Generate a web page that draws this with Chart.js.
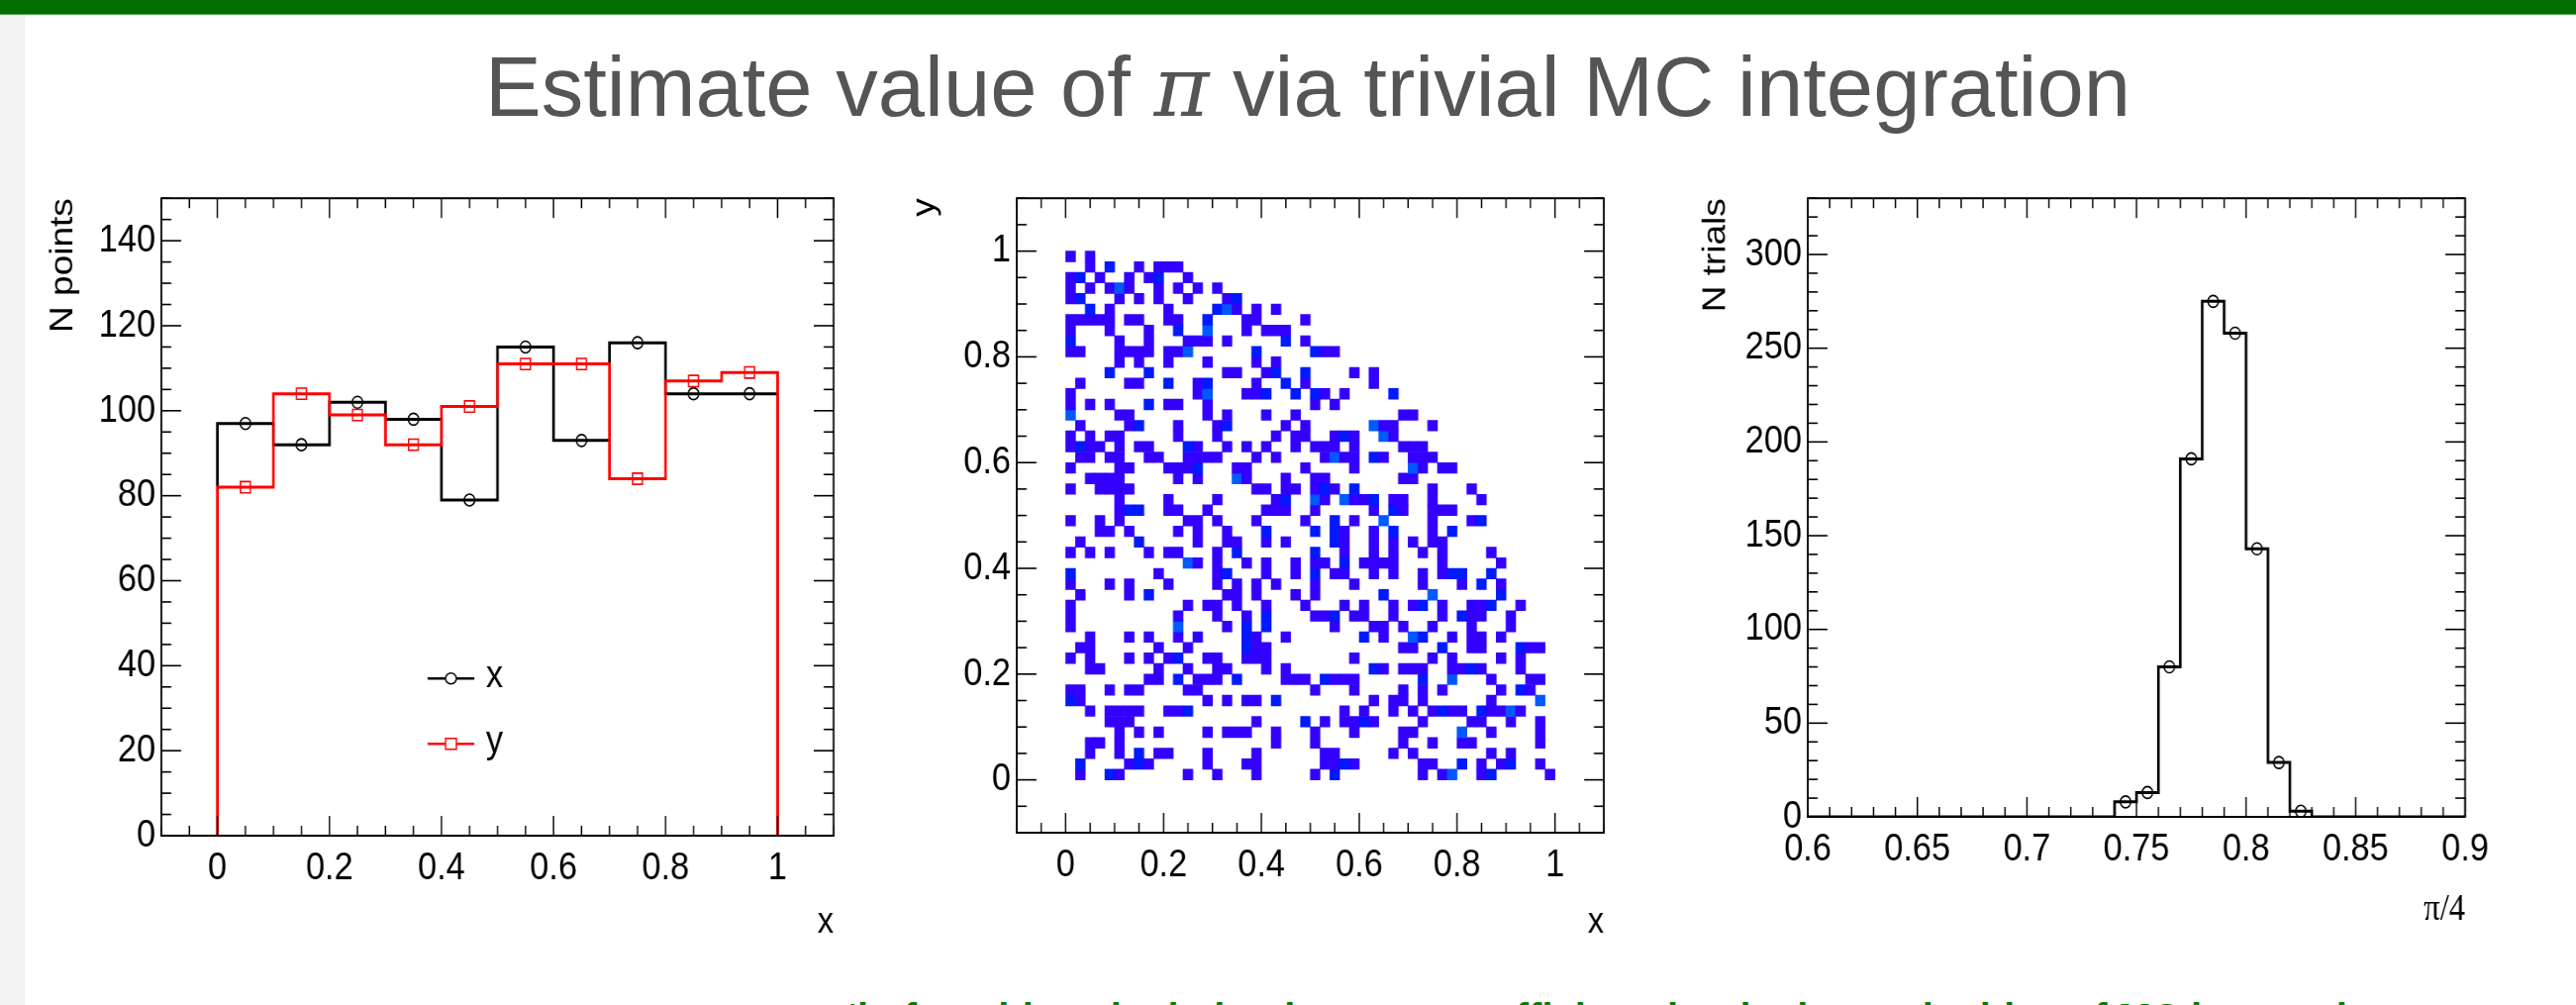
<!DOCTYPE html>
<html>
<head>
<meta charset="utf-8">
<script src="https://cdn.jsdelivr.net/npm/chart.js@4.4.1/dist/chart.umd.min.js"></script>
<style>
html, body { margin: 0; padding: 0; background: #fff; }
body { width: 2602px; height: 1015px; overflow: hidden; position: relative; font-family: "Liberation Sans", Arial, sans-serif; }
#topbar { position: absolute; left: 0; top: 0; width: 2602px; height: 14px; background: #006e00; border-bottom: 1px solid #4ea64e; }
#strip { position: absolute; left: 0; top: 15px; width: 25px; height: 1000px; background: #f3f3f3; }
#title { position: absolute; left: 25px; top: 45px; width: 2592px; text-align: center; font-size: 85px; line-height: 85px; color: #555; white-space: nowrap; }
#title .pi { font-family: "DejaVu Serif", serif; font-style: italic; }
#note { position: absolute; left: 855px; top: 1008px; font-size: 40px; line-height: 40px; color: #008000; font-weight: bold; white-space: nowrap; }
/* the ROOT canvases are squeezed horizontally in the slide */
canvas { position: absolute; top: 170px; transform-origin: 0 0; transform: scaleX(0.88); }
</style>
</head>
<body>
<div id="topbar"></div>
<div id="strip"></div>
<div id="title">Estimate value of <span class="pi">π</span> via trivial MC integration</div>
<canvas id="c1" height="810" style="left:30px"></canvas>
<canvas id="c2" height="810" style="left:880px"></canvas>
<canvas id="c3" height="810" style="left:1650px"></canvas>
<div id="note">‘in fact this calculation is not very efficient, but it shows the idea of MC integration</div>
<script>
// left pad: x and y of all generated points, 10 bins on [0,1]
const xyEdges = [0, 0.1, 0.2, 0.3, 0.4, 0.5, 0.6, 0.7, 0.8, 0.9, 1.0];
const xCounts = [97, 92, 102, 98, 79, 115, 93, 116, 104, 104];
const yCounts = [82, 104, 99, 92, 101, 111, 111, 84, 107, 109];
const p1XTicks = [0, 0.2, 0.4, 0.6, 0.8, 1];
const p1YTicks = [0, 20, 40, 60, 80, 100, 120, 140];
const legendLabels = ['x', 'y'];

// middle pad: points inside the quarter circle, 50x50 bins of 0.02
// hitRows[i] = y bin i (from y=0 up), entries "col" or "col:count"
const cellSize = 0.02;
const hitRows = [
  "1 4:2 5 12 15 19 25 27:2 36 38 39:3 42 43:2 49",
  "1:2 6 7:2 8 14 18 19 26 27 28:2 29 36 37 40:2 42 44 45:2 48",
  "2 5 7:2 9 10 14 19 26 27 33 35 43 45",
  "2 3 5 21 25 34 37 40 41 48",
  "5 7 9 14 16 17 18 21 25 29 34 35 40:3 43 48",
  "4 5 6 19 24:2 26 28 29 30:2 31 36 41 42 45 48",
  "2 4 5 6 7 10 11 12:2 28 30 33 35 37 38:2 39 40 42:2 43 44 45:3 46",
  "0:2 1 14 16 18 19 21:2 31 33 34 36 43 48:3",
  "0 1 4 6 7 12 13 25 29 34 36 38 44 46:2 47",
  "8 9 11:2 13 14 15 17:2 22 23 24 26:2 27 28 29 36:2 39:3 43 47 48",
  "2 3 9 12 15 16 20 22 31:2 32 34 35 36 39 40 41:2 42 46",
  "0 2 6 8 10 11:2 14 15 18 19 20 29 37 39 44 46",
  "1 2 9 12 18:2 19 20 34 35 38:2 41 42 46:2 47 48",
  "2 6 8 11 13 18:2 19 22 30:2 32 35:3 36:2 39 41 42 44",
  "0 11:3 16 18:2 20:2 27 31 32 34 37 41 45",
  "0 11 15 18 20:2 25 26 27:2 29 30 33 38 40:2 41 42 45",
  "0 12 14 15 17 20 24 28 30 33 35 36:2 38 41 42 43:2 46",
  "1 6 8:2 16 17 19 23 25 32:2 37:3 44:2",
  "0 4 6 10 15 17 19 21 25 29 36 40 42:2 44",
  "0:2 9 15 16:2 20 23 25:2 27 28 31 33 36 38 39:2 40:2 43:2",
  "12:3 13 15 18 20 23 25 26 28:2 30 31 32 33 38 44",
  "0 2 4 8 10 11 15 17:2 25:2 28 31 33 36 38 43",
  "1 7:2 13 16 17 20 22 27:2 28 31 33 35 37 38",
  "3 4 6 11 13 16 20:2 25:2 27:2 28 31 33:2 37 39:2",
  "0 3 5 12 13 15 19 24 27:2 29 32:3 37 41 42:2",
  "5 6:2 7:2 10 11 14 20 21 22 25 31 33:2 34 37 38 39",
  "5 10 15 21 22:2 25:3 26 28:3 29 30 31:2 33 34 37 42",
  "0 3 4 5 6 19 20 22 23 25 26:2 27 29:2 37 41",
  "2 3 4 5 11 13 17:3 18 22 25 26 34 35",
  "0 5 6 10 11 12 13:2 17 18 24 29 35:3 36 38 39",
  "1 2 4 5 8 9 12 13 14 15 19 21 26 27:3 28 29 31:2 32 35 36 37",
  "0 1:2 2 3 5 7 8 12:2 13 16 18 20 23 25 26 27 29 34 35 36",
  "0 2 4 5 11 15 21 23 24 27 28:2 29 32:3 33",
  "1 6 7:2 11 15 16:2 22 24 31:3 32 33 37",
  "0:3 5 6 14 16 20 23 34 35",
  "0 2 4 8:2 10 11 14 25 27",
  "0 13 14:3 18 19 20:2 23:2 25:2 26 28 33:2",
  "1 6 7 10:2 13 14:2 19 22:2 24 31",
  "4:2 8:2 16 17 20 21:2 24:2 29 31",
  "5 7 10 14 19 21",
  "0 1 5 6 7 8 10 11 12:3 19:2 25:2 26 27",
  "0:2 5 8 12 13 14 16 22:2 24",
  "0 4 8 11:2 14:3 18 20 21 22",
  "0 1 2 3 4 6 7 10 11 14:2 18 19 24",
  "2:2 4 10 15:2 16:3 17 19 21",
  "0 1:2 5 7 9 12 16 17:2",
  "0 2 4 5:3 6 9 11 13 15",
  "0 1:2 3 6 8 9:2 12",
  "2 4:2 7 9 10 11",
  "0 2"
];
const hitColors = ['#3300ff', '#0019ff', '#0059ff'];
const p2Ticks = [0, 0.2, 0.4, 0.6, 0.8, 1];

// right pad: pi/4 estimate of each trial, 30 bins on [0.6,0.9]
const piEdges = [0.60, 0.61, 0.62, 0.63, 0.64, 0.65, 0.66, 0.67, 0.68, 0.69, 0.70,
                 0.71, 0.72, 0.73, 0.74, 0.75, 0.76, 0.77, 0.78, 0.79, 0.80,
                 0.81, 0.82, 0.83, 0.84, 0.85, 0.86, 0.87, 0.88, 0.89, 0.90];
const piCounts = [0, 0, 0, 0, 0, 0, 0, 0, 0, 0, 0, 0, 0, 0, 8, 13, 80, 191, 275, 258, 143, 29, 3, 0, 0, 0, 0, 0, 0, 0];
const p3XTicks = [0.6, 0.65, 0.7, 0.75, 0.8, 0.85, 0.9];
const p3YTicks = [0, 50, 100, 150, 200, 250, 300];

const SX = 0.88;           // horizontal squeeze applied by css
const FONT = 'Liberation Sans';
const LABEL = {family: FONT, size: 39};
const TITLE = {family: FONT, size: 37};
const LW = 3;              // histogram line width

// histogram outline (ROOT style, edges go down to zero)
function stepPoints(edges, counts) {
  const pts = [{x: edges[0], y: 0}];
  counts.forEach((c, i) => pts.push({x: edges[i], y: c}));
  pts.push({x: edges[edges.length - 1], y: 0});
  return pts;
}
function centerPoints(edges, counts, skipZero) {
  const pts = [];
  counts.forEach((c, i) => {
    if (skipZero && c === 0) return;
    pts.push({x: (edges[i] + edges[i + 1]) / 2, y: c});
  });
  return pts;
}
const fmt = v => String(Math.round(v * 1000) / 1000);

// pad geometry given in page pixels -> canvas pixels
function pad(id, left, visWidth, frameL, frameR, yTitleX) {
  const cv = document.getElementById(id);
  cv.width = Math.round(visWidth / SX);
  return {
    yWidth: (frameL - left) / SX,
    padRight: cv.width - (frameR - left) / SX,
    yTitlePad: (yTitleX - left) / SX - TITLE.size * 0.6
  };
}

// frame with inward ticks on all four sides
const rootFrame = {
  id: 'rootFrame',
  afterDatasetsDraw(chart, args, opts) {
    const {ctx, chartArea: a, scales} = chart;
    const xs = scales.x, ys = scales.y;
    ctx.save();
    ctx.strokeStyle = '#000';
    ctx.lineWidth = 1.6;
    const seg = (x1, y1, x2, y2) => { ctx.beginPath(); ctx.moveTo(x1, y1); ctx.lineTo(x2, y2); ctx.stroke(); };
    const tickX = (v, len) => { const p = xs.getPixelForValue(v); seg(p, a.bottom, p, a.bottom - len); seg(p, a.top, p, a.top + len); };
    const tickY = (v, len) => { const p = ys.getPixelForValue(v); len /= SX; seg(a.left, p, a.left + len, p); seg(a.right, p, a.right - len, p); };
    const minors = (scale, step, majors, fn) => {
      for (let k = Math.ceil(scale.min / step - 1e-6); k * step <= scale.max + 1e-9; k++) {
        const v = k * step;
        if (majors.some(m => Math.abs(m.value - v) < step / 10)) continue;
        fn(v, 10);
      }
    };
    xs.ticks.forEach(t => tickX(t.value, 20));
    ys.ticks.forEach(t => tickY(t.value, 20));
    minors(xs, opts.xMinor, xs.ticks, tickX);
    minors(ys, opts.yMinor, ys.ticks, tickY);
    ctx.lineWidth = 2;
    ctx.strokeRect(a.left, a.top, a.width, a.height);
    ctx.restore();
  }
};

// legend drawn inside the left pad
const padLegend = {
  id: 'padLegend',
  afterDraw(chart, args, opts) {
    if (!opts.items) return;
    const {ctx, chartArea: a} = chart;
    ctx.save();
    opts.items.forEach((it, i) => {
      const y = a.top + opts.y0 + i * opts.dy;
      const x0 = a.left + opts.x0 / SX, x1 = x0 + 47 / SX, xm = (x0 + x1) / 2;
      ctx.strokeStyle = it.color;
      ctx.lineWidth = 2.5;
      ctx.beginPath(); ctx.moveTo(x0, y); ctx.lineTo(x1, y); ctx.stroke();
      ctx.fillStyle = '#fff';
      ctx.lineWidth = 1.6;
      ctx.beginPath();
      if (it.marker === 'circle') ctx.ellipse(xm, y, 5.5 / SX, 5.5, 0, 0, Math.PI * 2);
      else ctx.rect(xm - 5.5 / SX, y - 5.5, 11 / SX, 11);
      ctx.fill(); ctx.stroke();
      ctx.fillStyle = '#000';
      ctx.font = LABEL.size + 'px "' + FONT + '"';
      ctx.textBaseline = 'middle';
      ctx.fillText(it.label, x1 + 12 / SX, y - 2);
    });
    ctx.restore();
  }
};

function axis(min, max, ticks, title, titleFont, titlePad, size, isX) {
  return {
    type: 'linear', min, max, offset: false,
    grid: {display: false, drawTicks: false},
    border: {display: false},
    afterBuildTicks: s => { s.ticks = ticks.map(v => ({value: v})); },
    afterFit: s => { if (isX) s.height = size; else s.width = size; },
    ticks: {font: LABEL, color: '#000', padding: isX ? 10 : 6 / SX, maxRotation: 0, autoSkip: false, callback: v => fmt(v)},
    title: {display: true, text: title, align: 'end', color: '#000', font: titleFont, padding: titlePad}
  };
}

const base = {
  responsive: false, animation: false, devicePixelRatio: 1,
  plugins: {legend: {display: false}, tooltip: {enabled: false}}
};

// left pad: x and y distributions
const g1 = pad('c1', 30, 840, 163, 842, 64);
new Chart(document.getElementById('c1'), {
  type: 'scatter',
  data: {datasets: [
    {data: stepPoints(xyEdges, xCounts), showLine: true, stepped: 'before', borderColor: '#000', borderWidth: LW, pointRadius: 0, order: 4},
    {data: centerPoints(xyEdges, xCounts), pointStyle: 'circle', pointRadius: 6, borderColor: '#000', backgroundColor: 'rgba(0,0,0,0)', pointBorderWidth: 1.6, order: 3},
    {data: stepPoints(xyEdges, yCounts), showLine: true, stepped: 'before', borderColor: '#ff0000', borderWidth: LW, pointRadius: 0, order: 2},
    {data: centerPoints(xyEdges, yCounts), pointStyle: 'rect', pointRadius: 8, borderColor: '#ff0000', backgroundColor: 'rgba(0,0,0,0)', pointBorderWidth: 1.6, order: 1}
  ]},
  options: Object.assign({}, base, {
    layout: {padding: {left: 0, top: 24, right: g1.padRight, bottom: 0}},
    scales: {
      x: axis(-0.1, 1.1, p1XTicks, 'x', TITLE, {top: 0, bottom: 26}, 136, true),
      y: axis(0, 150, p1YTicks, 'N points', TITLE, {top: g1.yTitlePad, bottom: 0}, g1.yWidth, false)
    },
    plugins: Object.assign({}, base.plugins, {
      rootFrame: {xMinor: 0.05, yMinor: 5},
      padLegend: {x0: 269, y0: 485, dy: 66, items: [
        {label: legendLabels[0], color: '#000', marker: 'circle'},
        {label: legendLabels[1], color: '#ff0000', marker: 'rect'}
      ]}
    })
  }),
  plugins: [rootFrame, padLegend]
});

// middle pad: 2D histogram of accepted points
const hitCells = [];
hitRows.forEach((row, r) => row.split(' ').forEach(tok => {
  const [c, n] = tok.split(':').map(Number);
  hitCells.push({x: (c + 0.5) * cellSize, y: [r * cellSize, (r + 1) * cellSize], n: n || 1});
}));

const g2 = pad('c2', 880, 760, 1027, 1620, 934);
new Chart(document.getElementById('c2'), {
  type: 'bar',
  data: {datasets: [{
    data: hitCells,
    backgroundColor: ctx => hitColors[((ctx.raw && ctx.raw.n) || 1) - 1],
    borderWidth: 0, barPercentage: 1, categoryPercentage: 1
  }]},
  options: Object.assign({}, base, {
    layout: {padding: {left: 0, top: 24, right: g2.padRight, bottom: 0}},
    scales: {
      x: axis(-0.1, 1.1, p2Ticks, 'x', TITLE, {top: 0, bottom: 26}, 139, true),
      y: axis(-0.1, 1.1, p2Ticks, 'y', TITLE, {top: g2.yTitlePad, bottom: 0}, g2.yWidth, false)
    },
    plugins: Object.assign({}, base.plugins, {rootFrame: {xMinor: 0.05, yMinor: 0.05}})
  }),
  plugins: [rootFrame]
});

// right pad: distribution of pi/4 estimates
const g3 = pad('c3', 1650, 900, 1826, 2490, 1733);
new Chart(document.getElementById('c3'), {
  type: 'scatter',
  data: {datasets: [
    {data: stepPoints(piEdges, piCounts), showLine: true, stepped: 'before', borderColor: '#000', borderWidth: LW, pointRadius: 0, order: 2},
    {data: centerPoints(piEdges, piCounts, true), pointStyle: 'circle', pointRadius: 6, borderColor: '#000', backgroundColor: 'rgba(0,0,0,0)', pointBorderWidth: 1.6, order: 1}
  ]},
  options: Object.assign({}, base, {
    layout: {padding: {left: 0, top: 23, right: g3.padRight, bottom: 0}},
    scales: {
      x: axis(0.6, 0.9, p3XTicks, 'π/4', {family: 'Liberation Serif', size: 37}, {top: 0, bottom: 39}, 155, true),
      y: axis(0, 330, p3YTicks, 'N trials', TITLE, {top: g3.yTitlePad, bottom: 0}, g3.yWidth, false)
    },
    plugins: Object.assign({}, base.plugins, {rootFrame: {xMinor: 0.01, yMinor: 10}})
  }),
  plugins: [rootFrame]
});
</script>
</body>
</html>
